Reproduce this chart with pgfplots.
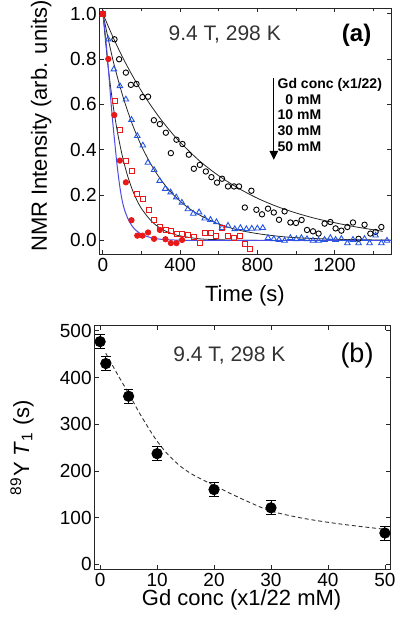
\documentclass[border=0pt]{standalone}
\usepackage{fontspec}
\setmainfont{Liberation Sans}
\usepackage{pgfplots}
\pgfplotsset{compat=1.18}
\usetikzlibrary{arrows.meta}
\definecolor{tblue}{RGB}{35,85,225}
\definecolor{tred}{RGB}{232,25,25}
\definecolor{lblue}{RGB}{75,75,230}
\pgfplotsset{
  myax/.style={
    scale only axis, anchor=south west,
    axis line style={black!85, line width=0.5pt},
    tick align=inside, major tick length=2.2pt, minor tick length=1.5pt,
    every tick/.style={black!85, line width=0.4pt},
    tick label style={font=\fontsize{9.5}{11}\selectfont},
    /pgf/number format/assume math mode=true,
    label style={font=\fontsize{11}{13}\selectfont},
    ylabel style={anchor=center},
    xlabel style={anchor=center},
    yticklabel style={inner xsep=1.5pt},
    xticklabel style={inner ysep=2pt},
  }
}
\begin{document}
\begin{tikzpicture}[x=1pt,y=1pt]
\path[use as bounding box] (0,0) rectangle (200,314.5);
% ---------------- panel (a)
\begin{axis}[myax,
  at={(50pt,187.5pt)}, width=145.8pt, height=123pt,
  xmin=-15, xmax=1495, ymin=-0.06, ymax=1.025,
  xtick={0,400,800,1200}, minor xtick={200,600,1000,1400},
  ytick={0,0.2,0.4,0.6,0.8,1},
  yticklabel style={/pgf/number format/.cd, fixed, fixed zerofill, precision=1},
  xticklabel style={/pgf/number format/1000 sep={}},
  xlabel={Time (s)}, ylabel={NMR Intensity (arb. units)},
  xlabel style={at={(axis description cs:0.497,-0.17)}},
  ylabel style={at={(axis description cs:-0.202,0.52)}},
]
% 0 mM
\addplot[only marks, mark=o, mark size=1.35pt, mark options={black, line width=0.45pt}] coordinates {
(0,1.0) (60,0.887) (84,0.799) (119,0.740) (145,0.686) (174,0.690) (205,0.632) (234,0.634)
(264,0.530) (295,0.513) (326,0.475) (352,0.385) (381,0.444) (412,0.425) (445,0.378)
(471,0.316) (502,0.333) (533,0.304) (562,0.279) (591,0.255) (617,0.272) (648,0.238)
(679,0.238) (705,0.238) (735,0.145) (769,0.219) (795,0.135) (824,0.115) (855,0.140)
(885,0.123) (912,0.091) (941,0.128) (971,0.079) (1000,0.077) (1029,0.090) (1057,0.046)
(1088,0.040) (1117,0.030) (1148,0.074) (1178,0.081) (1205,0.053) (1235,0.043)
(1266,0.059) (1295,0.079) (1324,0.007) (1355,0.069) (1385,0.030) (1412,0.037) (1442,0.059)
};
% 10 mM
\addplot[only marks, mark=triangle, mark size=1.6pt, mark options={tblue, line width=0.45pt}] coordinates {
(0,1.0) (27,0.887) (57,0.755) (88,0.681) (119,0.622) (148,0.532) (178,0.461) (207,0.419)
(233,0.343) (265,0.311) (294,0.263) (323,0.228) (351,0.212) (380,0.190) (409,0.167)
(440,0.138) (468,0.118) (498,0.124) (527,0.097) (557,0.091) (588,0.081) (617,0.055)
(648,0.065) (683,0.050) (712,0.055) (743,0.050) (771,0.052) (800,0.053) (828,0.055)
(855,0.011) (885,0.006) (912,0.003) (941,-0.001) (971,0.011) (1002,0.006) (1028,0.011)
(1057,0.006) (1088,-0.001) (1117,-0.001) (1148,0.003) (1178,0.011) (1205,0.003)
(1235,0.007) (1266,-0.012) (1295,0.003) (1324,-0.012) (1355,0.007) (1381,-0.012)
(1412,0.022) (1442,-0.012) (1471,-0.001)
};
% 30 mM
\addplot[only marks, mark=square, mark size=1.25pt, mark options={tred, line width=0.45pt}] coordinates {
(0,1.0) (60,0.615) (86,0.488) (118,0.352) (148,0.308) (176,0.204) (206,0.184) (236,0.135)
(265,0.088) (295,0.058) (324,0.047) (352,0.040) (381,0.028) (410,0.028) (441,0.025)
(471,0.015) (500,-0.013) (528,0.033) (557,0.033) (588,0.018) (617,0.055) (648,0.018)
(679,0.011) (709,0.018) (735,-0.017) (762,-0.038)
};
% 50 mM
\addplot[only marks, mark=*, mark size=1.35pt, mark options={tred, draw=tred, fill=tred}] coordinates {
(0,1.0) (28,0.800) (59,0.553) (88,0.352) (119,0.256) (148,0.089) (178,0.021) (205,0.021)
(234,0.035) (265,0.007) (295,0.046) (324,0.005) (352,-0.012) (381,-0.012) (410,0.002)
};
% fit lines
\addplot[black!85, line width=0.4pt, smooth] coordinates {
(0,1) (50,0.901) (100,0.811) (150,0.731) (200,0.658) (250,0.593) (300,0.534) (350,0.481)
(400,0.433) (500,0.351) (600,0.285) (700,0.231) (800,0.186) (900,0.150) (1000,0.121)
(1100,0.097) (1200,0.078) (1300,0.061) (1400,0.047) (1450,0.040)
};
\addplot[black!85, line width=0.4pt, smooth] coordinates {
(0,1) (50,0.803) (100,0.645) (150,0.518) (200,0.416) (250,0.334) (300,0.268) (350,0.215)
(400,0.173) (450,0.139) (500,0.112) (600,0.072) (700,0.046) (800,0.030) (900,0.019)
(1000,0.012) (1200,0.005) (1495,0.001)
};
\addplot[black!85, line width=0.4pt, smooth] coordinates {
(0,1) (25,0.782) (50,0.612) (75,0.479) (100,0.375) (125,0.293) (150,0.229) (175,0.179)
(200,0.140) (250,0.086) (300,0.052) (350,0.032) (400,0.020) (500,0.007) (600,0.003)
(700,0.001) (800,0.0)
};
\addplot[lblue, line width=0.5pt, smooth] coordinates {
(0,1.00) (10,0.93) (20,0.84) (30,0.74) (40,0.63) (50,0.53) (64,0.41) (75,0.32) (88,0.235)
(100,0.175) (112,0.135) (130,0.095) (150,0.065) (164,0.05) (200,0.027) (250,0.012)
(300,0.005) (400,0.001) (600,0.0) (1495,0.0)
};
\node[black!80, font=\fontsize{10.5}{12}\selectfont] at (axis cs:631,0.906) {9.4 T, 298 K};
\node[font=\bfseries\fontsize{12}{14}\selectfont] at (axis cs:1314,0.906) {(a)};
\draw[line width=0.7pt, -{Triangle[length=4.5pt,width=4.2pt]}] (axis cs:885,0.715) -- (axis cs:885,0.355);
\begin{scope}[every node/.style={anchor=west, inner sep=0pt, font=\bfseries\fontsize{7}{8}\selectfont}]
\node at (axis cs:903,0.686) {Gd conc (x1/22)};
\node at (axis cs:903,0.620) {\phantom{1}0 mM};
\node at (axis cs:903,0.553) {10 mM};
\node at (axis cs:903,0.484) {30 mM};
\node at (axis cs:903,0.415) {50 mM};
\end{scope}
\end{axis}
% ---------------- panel (b)
\begin{axis}[myax,
  at={(47.5pt,29.85pt)}, width=147.8pt, height=121.7pt,
  xmin=-0.9, xmax=51, ymin=-10.7, ymax=510.7,
  xtick={0,10,20,30,40,50}, ytick={0,100,200,300,400,500},
  xlabel={Gd conc (x1/22 mM)},
  ylabel={\textsuperscript{89}Y \textit{T}\textsubscript{1} (s)},
  xlabel style={at={(axis description cs:0.496,-0.126)}},
  ylabel style={at={(axis description cs:-0.247,0.5)}},
]
\addplot[black!80, line width=0.45pt, dash pattern=on 2pt off 1.4pt, smooth] coordinates {
(1,452) (3,408) (5,366) (7,322) (9,282) (10,264) (11,248) (12,234) (14,211) (16,194)
(18,181) (20,169) (23,151) (26,134) (30,114) (35,100) (40,90) (45,82) (50,75)
};
\addplot[only marks, mark=*, mark size=2.6pt, black,
  error bars/.cd, y dir=both, y explicit,
  error bar style={line width=0.45pt, black},
  error mark options={rotate=90, mark size=2.4pt, line width=0.45pt, black}]
  coordinates {
(0,477) +- (0,15)
(1,430) +- (0,15)
(5,360) +- (0,15)
(10,237) +- (0,15)
(20,160) +- (0,15)
(30,121) +- (0,15)
(50,67) +- (0,15)
};
\node[black!80, font=\fontsize{10.5}{12}\selectfont] at (axis cs:22.7,448) {9.4 T, 298 K};
\node[font=\fontsize{13.5}{15}\selectfont] at (axis cs:45.1,448) {(b)};
\end{axis}
\end{tikzpicture}
\end{document}
